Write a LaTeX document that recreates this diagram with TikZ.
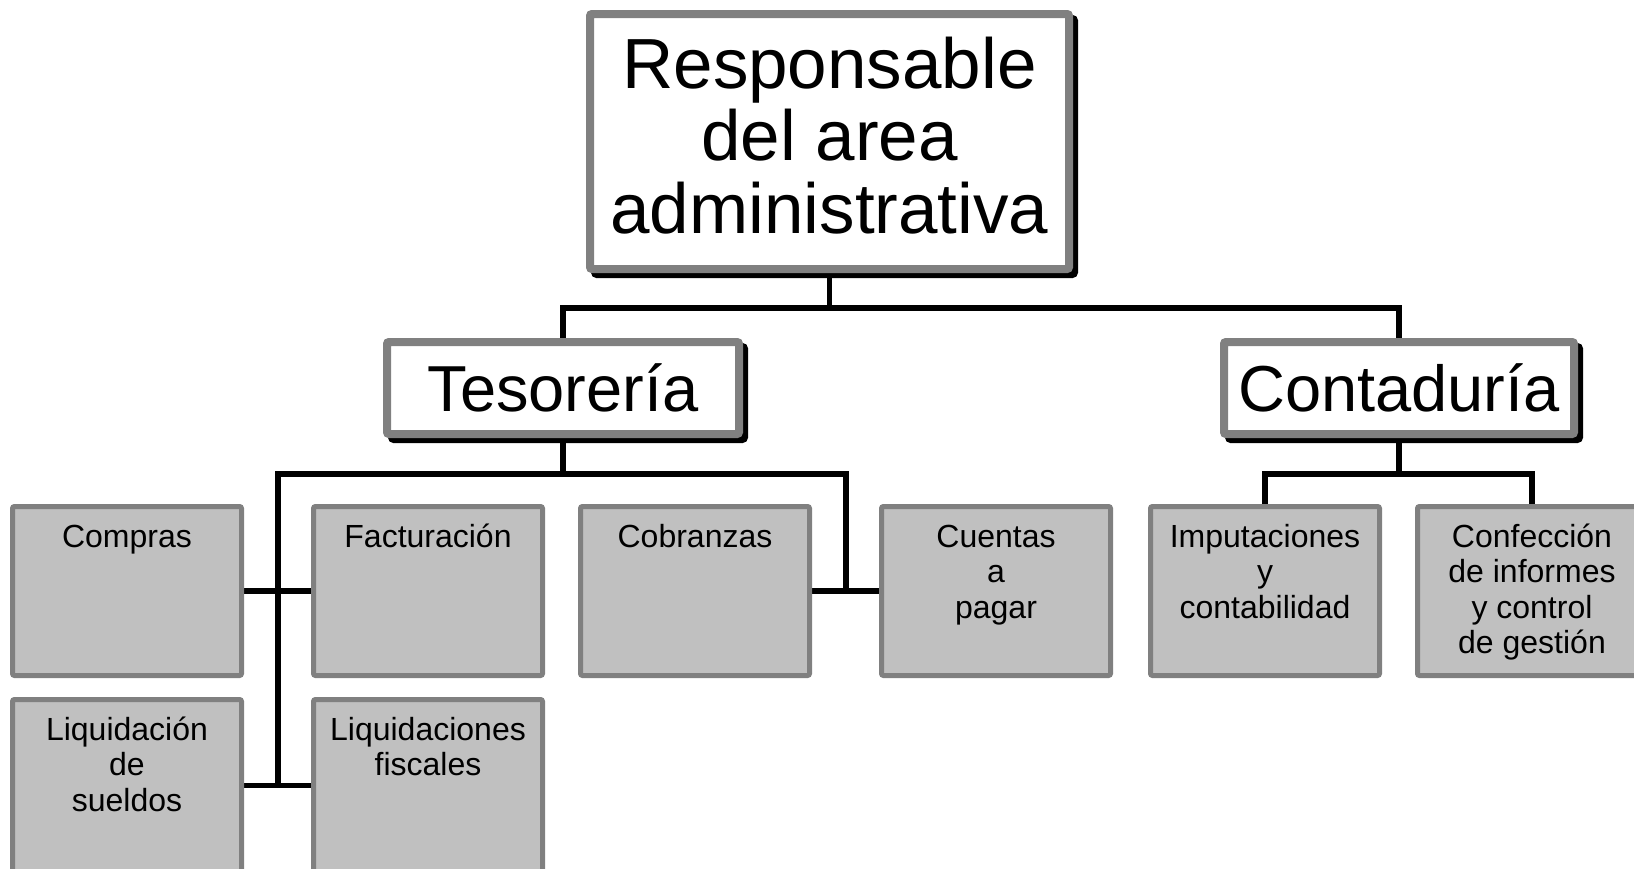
\documentclass[tikz,border=0pt]{standalone}
\usepackage{fontspec}
\setmainfont{Liberation Sans}
\usetikzlibrary{shadows}
\definecolor{boxgray}{HTML}{808080}
\definecolor{fillgray}{HTML}{C0C0C0}
\newcommand\fTop{\fontsize{71pt}{72.5pt}\selectfont}
\newcommand\fMid{\fontsize{65pt}{70pt}\selectfont}
\newcommand\fSmall{\fontsize{32pt}{35.5pt}\selectfont}
\pgfdeclarelayer{bg}
\pgfsetlayers{bg,main}
\tikzset{
  bigbox/.style={draw=boxgray, line width=8pt, fill=white, rounded corners=2pt,
    inner sep=0pt, outer sep=0pt, anchor=north west,
    general shadow={draw=black, fill=black, line width=8pt, shadow xshift=5pt, shadow yshift=-5pt}},
  smallbox/.style={draw=boxgray, line width=5pt, fill=fillgray, rounded corners=2pt,
    inner sep=0pt, outer sep=0pt, anchor=north west},
  conn/.style={line width=5.5pt, black, line join=miter},
}
\newcommand\sbtext[1]{\parbox[t][169pt][t]{229pt}{\centering\fSmall\rule{0pt}{40.5pt}#1}}
\begin{document}
\begin{tikzpicture}[x=1pt,y=-1pt]
\path[use as bounding box] (0,0) rectangle (1634,868);
\clip (0,0) rectangle (1634,868);
% top level
\node[bigbox] (top) at (590,14) {\parbox[t][255pt][t]{479pt}{\centering\fTop\rule{0pt}{74pt}Responsable\\del area\\administrativa}};
\node[bigbox] (tes) at (387,342) {\parbox[t][92pt][t]{352pt}{\centering\fMid\rule{0pt}{69pt}Tesorería}};
\node[bigbox] (cont) at (1224,342) {\parbox[t][92pt][t]{350pt}{\centering\fMid\rule{0pt}{69pt}Contaduría}};
% small boxes
\node[smallbox] (compras) at (12.5,506.5) {\sbtext{Compras}};
\node[smallbox] (fact) at (313.5,506.5) {\sbtext{Facturación}};
\node[smallbox] (cob) at (580.5,506.5) {\sbtext{Cobranzas}};
\node[smallbox] (cue) at (881.5,506.5) {\sbtext{Cuentas\\a\\pagar}};
\node[smallbox] (imp) at (1150.5,506.5) {\sbtext{Imputaciones\\y\\contabilidad}};
\node[smallbox] (conf) at (1417.5,506.5) {\sbtext{Confección\\de informes\\y control\\de gestión}};
\node[smallbox] (liq) at (12.5,699.5) {\parbox[t][172pt][t]{229pt}{\centering\fSmall\rule{0pt}{40.5pt}Liquidación\\de\\sueldos}};
\node[smallbox] (liqf) at (313.5,699.5) {\parbox[t][172pt][t]{229pt}{\centering\fSmall\rule{0pt}{40.5pt}Liquidaciones\\fiscales}};
% connector coordinates
\coordinate (bus1) at (0,308);
\coordinate (bus2) at (0,474);
\coordinate (tlft) at (278,474);
\coordinate (trgt) at (846,474);
\begin{pgfonlayer}{bg}
\draw[conn] (top.south) -- (top.south |- bus1);
\draw[conn] (tes.north) -- (tes.north |- bus1) -- (cont.north |- bus1) -- (cont.north);
\draw[conn] (tes.south) -- (tes.south |- bus2);
\draw[conn] (tlft |- liq.east) -- (tlft) -- (trgt) -- (trgt |- cob.east);
\draw[conn] (compras.east) -- (fact.west);
\draw[conn] (cob.east) -- (cue.west);
\draw[conn] (liq.east) -- (liqf.west);
\draw[conn] (cont.south) -- (cont.south |- bus2);
\draw[conn] (imp.north) -- (imp.north |- bus2) -- (conf.north |- bus2) -- (conf.north);
\end{pgfonlayer}
\end{tikzpicture}
\end{document}
